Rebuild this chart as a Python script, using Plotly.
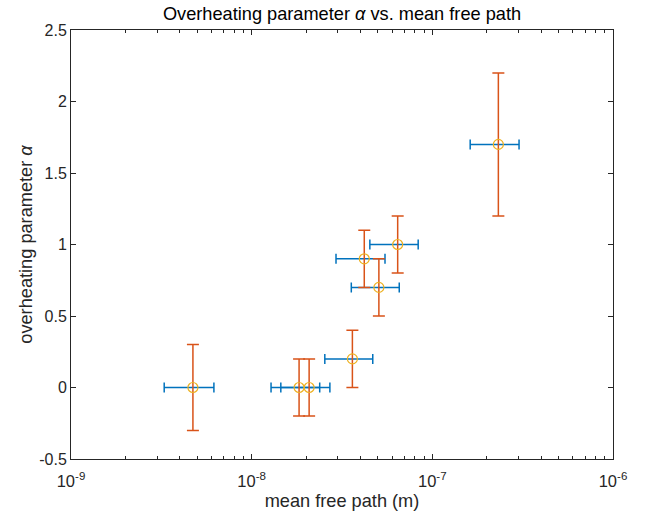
import plotly.graph_objects as go

# data
mfp = [4.73e-9, 1.83e-8, 2.08e-8, 3.61e-8, 4.20e-8, 5.06e-8, 6.43e-8, 2.32e-7]
mfp_err = [1.45e-9, 0.55e-8, 0.63e-8, 1.07e-8, 1.27e-8, 1.5e-8, 1.92e-8, 0.70e-7]
alpha = [0.0, 0.0, 0.0, 0.2, 0.9, 0.7, 1.0, 1.7]
alpha_err = [0.3, 0.2, 0.2, 0.2, 0.2, 0.2, 0.2, 0.5]

x_tickvals = [1e-9, 1e-8, 1e-7, 1e-6]
x_ticktext = ["10<sup>-9</sup>", "10<sup>-8</sup>", "10<sup>-7</sup>", "10<sup>-6</sup>"]
y_tickvals = [-0.5, 0, 0.5, 1, 1.5, 2, 2.5]
y_ticktext = ["-0.5", "0", "0.5", "1", "1.5", "2", "2.5"]

BLUE = "#0072BD"
ORANGE = "#D95319"
YELLOW = "#EDB120"
AX = "#262626"
FONT = "Liberation Sans, Arial, sans-serif"

fig = go.Figure()
fig.add_trace(go.Scatter(
    x=mfp, y=alpha, mode="markers",
    marker=dict(size=1, color="rgba(0,0,0,0)"),
    error_x=dict(type="data", array=mfp_err, color=BLUE, thickness=1.5, width=5),
    showlegend=False, hoverinfo="skip"))
fig.add_trace(go.Scatter(
    x=mfp, y=alpha, mode="markers",
    marker=dict(size=1, color="rgba(0,0,0,0)"),
    error_y=dict(type="data", array=alpha_err, color=ORANGE, thickness=1.5, width=6),
    showlegend=False, hoverinfo="skip"))
fig.add_trace(go.Scatter(
    x=mfp, y=alpha, mode="markers",
    marker=dict(symbol="circle-open", size=10, color=YELLOW, line=dict(width=1.2, color=YELLOW)),
    showlegend=False))

fig.update_layout(
    width=647, height=515,
    margin=dict(l=71, r=34, t=30, b=56),
    paper_bgcolor="white", plot_bgcolor="white",
    font=dict(family=FONT, size=16, color=AX),
    title=dict(text="Overheating parameter <i>α</i> vs. mean free path",
               x=(71 + 613) / 2 / 647, xanchor="center", y=1 - 14 / 515, yanchor="middle",
               font=dict(size=18.2, color="black")),
)
fig.update_xaxes(
    type="log", range=[-9, -6], automargin=False,
    tickvals=x_tickvals, ticktext=x_ticktext,
    ticks="inside", ticklen=5, tickcolor=AX, tickwidth=1,
    showline=True, linecolor=AX, linewidth=1, mirror="ticks",
    showgrid=False, zeroline=False,
    minor=dict(ticks="inside", ticklen=3, tickcolor=AX, showgrid=False,
               tickvals=[m * 10 ** e for e in (-9, -8, -7) for m in range(2, 10)]),
    title=dict(text="mean free path (m)", font=dict(size=18.2), standoff=5),
    tickfont=dict(size=16.5),
    ticklabelstandoff=7,
)
fig.update_yaxes(
    range=[-0.5, 2.5], automargin=False,
    tickvals=y_tickvals, ticktext=y_ticktext,
    ticks="inside", ticklen=5, tickcolor=AX, tickwidth=1,
    showline=True, linecolor=AX, linewidth=1, mirror="ticks",
    showgrid=False, zeroline=False,
    title=dict(text="overheating parameter <i>α</i>", font=dict(size=18.2), standoff=1),
    tickfont=dict(size=16),
)

fig.write_html("out.html")
